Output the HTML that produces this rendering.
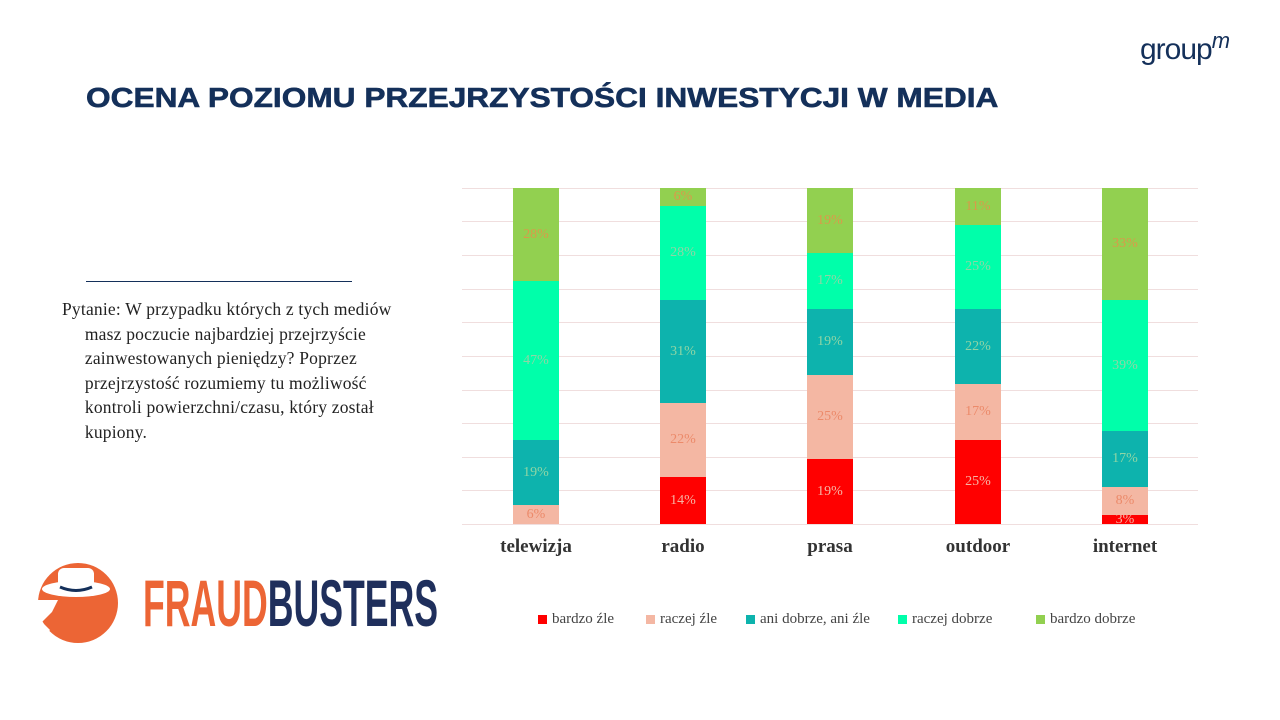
<!DOCTYPE html>
<html><head><meta charset="utf-8"><style>
body{margin:0;width:1280px;height:720px;background:#fff;position:relative;overflow:hidden;font-family:"Liberation Serif",serif}
.a{position:absolute}
.t{left:86px;top:82px;font:bold 28px "Liberation Sans",sans-serif;color:#14305a;transform:scaleX(1.13);transform-origin:left;white-space:nowrap;-webkit-text-stroke:0.6px #14305a}
.g{left:462px;width:736px;height:1px;background:#f0dede}
.s{position:absolute;width:46px;display:flex;align-items:center;justify-content:center;font-size:14px}
.c{position:absolute;top:536px;font:bold 19px "Liberation Serif",serif;color:#333;width:140px;text-align:center}
.lg{top:611px;font-size:15px;color:#444;display:flex;align-items:center}
.lg i{display:inline-block;width:9px;height:9px;margin-right:5px}
</style></head><body>
<div class="a" style="left:1140px;top:28px;font:30px 'Liberation Sans',sans-serif;color:#14305a;letter-spacing:-1px">group<sup style="font-size:22px;font-style:italic">m</sup></div>
<div class="a t">OCENA POZIOMU PRZEJRZYSTOŚCI INWESTYCJI W MEDIA</div>
<div class="a" style="left:86px;top:281px;width:266px;height:1px;background:#14305a"></div>
<div class="a" style="left:62px;top:297px;width:380px;font-size:17.5px;letter-spacing:0.2px;line-height:24.5px;color:#222;white-space:nowrap">Pytanie: W przypadku których z tych mediów<br>&nbsp;&nbsp;&nbsp;&nbsp;&nbsp;masz poczucie najbardziej przejrzyście<br>&nbsp;&nbsp;&nbsp;&nbsp;&nbsp;zainwestowanych pieniędzy? Poprzez<br>&nbsp;&nbsp;&nbsp;&nbsp;&nbsp;przejrzystość rozumiemy tu możliwość<br>&nbsp;&nbsp;&nbsp;&nbsp;&nbsp;kontroli powierzchni/czasu, który został<br>&nbsp;&nbsp;&nbsp;&nbsp;&nbsp;kupiony.</div>

<div class="a g" style="top:188px"></div><div class="a g" style="top:221px"></div><div class="a g" style="top:255px"></div><div class="a g" style="top:289px"></div><div class="a g" style="top:322px"></div><div class="a g" style="top:356px"></div><div class="a g" style="top:390px"></div><div class="a g" style="top:423px"></div><div class="a g" style="top:457px"></div><div class="a g" style="top:490px"></div><div class="a g" style="top:524px"></div>

<div class="s" style="left:513px;top:188px;height:93px;background:#92d050;color:#d99a4a">28%</div>
<div class="s" style="left:513px;top:281px;height:159px;background:#00ffaa;color:#8fd5a5">47%</div>
<div class="s" style="left:513px;top:440px;height:65px;background:#0db3ad;color:#8fd5a5">19%</div>
<div class="s" style="left:513px;top:505px;height:19px;background:#f4b7a3;color:#ec8a6a">6%</div>
<div class="s" style="left:660px;top:188px;height:18px;background:#92d050;color:#d99a4a">6%</div>
<div class="s" style="left:660px;top:206px;height:94px;background:#00ffaa;color:#8fd5a5">28%</div>
<div class="s" style="left:660px;top:300px;height:103px;background:#0db3ad;color:#8fd5a5">31%</div>
<div class="s" style="left:660px;top:403px;height:74px;background:#f4b7a3;color:#ec8a6a">22%</div>
<div class="s" style="left:660px;top:477px;height:47px;background:#ff0000;color:#f6b4a4">14%</div>
<div class="s" style="left:807px;top:188px;height:65px;background:#92d050;color:#d99a4a">19%</div>
<div class="s" style="left:807px;top:253px;height:56px;background:#00ffaa;color:#8fd5a5">17%</div>
<div class="s" style="left:807px;top:309px;height:66px;background:#0db3ad;color:#8fd5a5">19%</div>
<div class="s" style="left:807px;top:375px;height:84px;background:#f4b7a3;color:#ec8a6a">25%</div>
<div class="s" style="left:807px;top:459px;height:65px;background:#ff0000;color:#f6b4a4">19%</div>
<div class="s" style="left:955px;top:188px;height:37px;background:#92d050;color:#d99a4a">11%</div>
<div class="s" style="left:955px;top:225px;height:84px;background:#00ffaa;color:#8fd5a5">25%</div>
<div class="s" style="left:955px;top:309px;height:75px;background:#0db3ad;color:#8fd5a5">22%</div>
<div class="s" style="left:955px;top:384px;height:56px;background:#f4b7a3;color:#ec8a6a">17%</div>
<div class="s" style="left:955px;top:440px;height:84px;background:#ff0000;color:#f6b4a4">25%</div>
<div class="s" style="left:1102px;top:188px;height:112px;background:#92d050;color:#d99a4a">33%</div>
<div class="s" style="left:1102px;top:300px;height:131px;background:#00ffaa;color:#8fd5a5">39%</div>
<div class="s" style="left:1102px;top:431px;height:56px;background:#0db3ad;color:#8fd5a5">17%</div>
<div class="s" style="left:1102px;top:487px;height:28px;background:#f4b7a3;color:#ec8a6a">8%</div>
<div class="s" style="left:1102px;top:515px;height:9px;background:#ff0000;color:#f6b4a4;line-height:9px">3%</div>

<div class="c" style="left:466px">telewizja</div>
<div class="c" style="left:613px">radio</div>
<div class="c" style="left:760px">prasa</div>
<div class="c" style="left:908px">outdoor</div>
<div class="c" style="left:1055px">internet</div>

<div class="a lg" style="left:538px"><i style="background:#ff0000"></i>bardzo źle</div>
<div class="a lg" style="left:646px"><i style="background:#f4b7a3"></i>raczej źle</div>
<div class="a lg" style="left:746px"><i style="background:#0db3ad"></i>ani dobrze, ani źle</div>
<div class="a lg" style="left:898px"><i style="background:#00ffaa"></i>raczej dobrze</div>
<div class="a lg" style="left:1036px"><i style="background:#92d050"></i>bardzo dobrze</div>

<svg class="a" style="left:30px;top:560px" width="95" height="86" viewBox="0 0 95 86">
<circle cx="48" cy="43" r="40" fill="#ec6535"/>
<path d="M0 40 L28 40 L22 52 L12 62 L20 70 L8 86 L0 86Z" fill="#fff"/>
<ellipse cx="46" cy="29" rx="34" ry="8" fill="#fff"/>
<rect x="28" y="8" width="36" height="22" rx="6" fill="#fff"/>
<path d="M30 27 Q46 34 62 27" stroke="#14305a" stroke-width="3" fill="none"/>
</svg>
<div class="a" style="left:143px;top:567px;font:bold 66px 'Liberation Sans',sans-serif;transform:scaleX(0.54);transform-origin:left;white-space:nowrap;line-height:72px"><span style="color:#ec6535">FRAUD</span><span style="color:#1f2f5c">BUSTERS</span></div>
</body></html>
